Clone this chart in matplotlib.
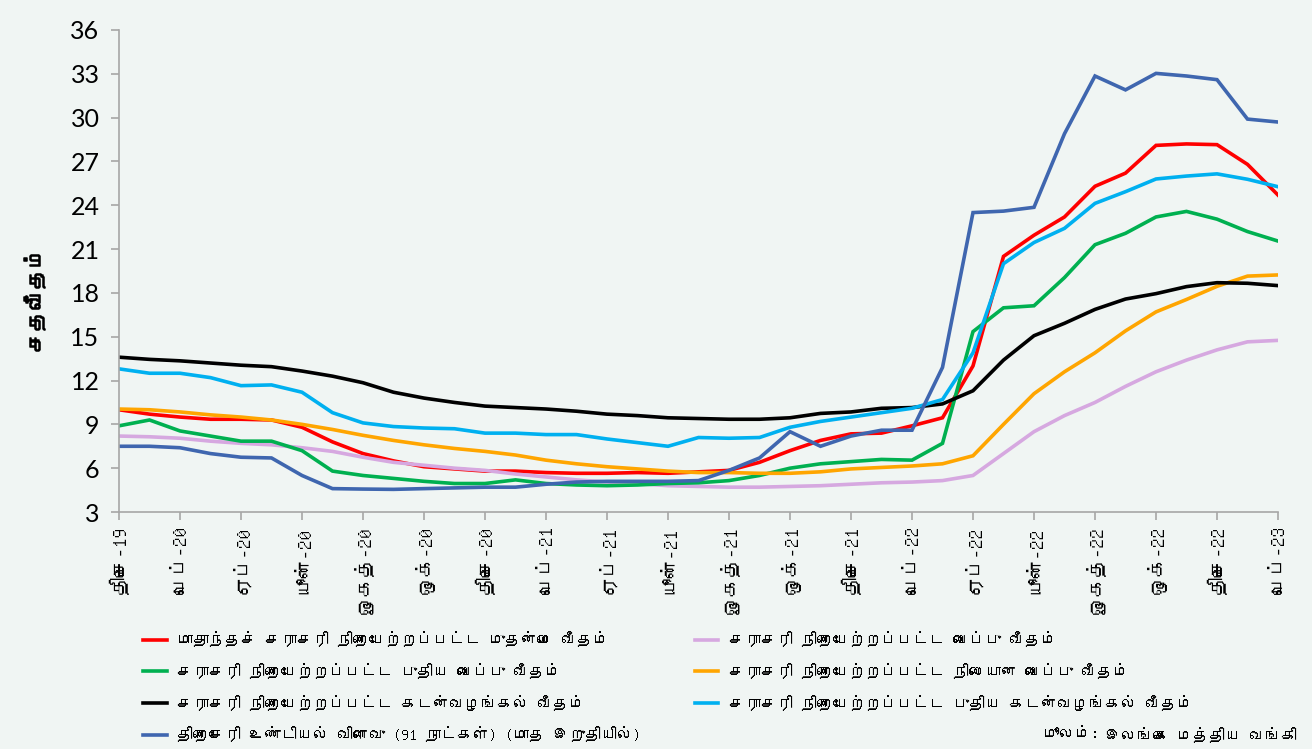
import matplotlib
matplotlib.use("Agg")
import matplotlib.pyplot as plt
import matplotlib.patheffects as pe
from matplotlib import font_manager
from matplotlib.ft2font import FT2Font

# ---------------- data ----------------
months = ["திசெ-19", "ஜன-20", "பெப்-20", "மார்-20", "ஏப்-20", "மே-20", "யூன்-20", "யூலை-20",
          "ஓகத்-20", "செப்-20", "ஒக்-20", "நவ-20", "திசெ-20", "ஜன-21", "பெப்-21", "மார்-21",
          "ஏப்-21", "மே-21", "யூன்-21", "யூலை-21", "ஓகத்-21", "செப்-21", "ஒக்-21", "நவ-21",
          "திசெ-21", "ஜன-22", "பெப்-22", "மார்-22", "ஏப்-22", "மே-22", "யூன்-22", "யூலை-22",
          "ஓகத்-22", "செப்-22", "ஒக்-22", "நவ-22", "திசெ-22", "ஜன-23", "பெப்-23"]

awpr = [10.0, 9.7, 9.5, 9.35, 9.35, 9.3, 8.8, 7.8, 7.0, 6.5, 6.1, 5.95, 5.8, 5.8, 5.7, 5.65,
        5.65, 5.7, 5.65, 5.75, 5.85, 6.4, 7.2, 7.9, 8.35, 8.4, 8.9, 9.45, 13.0, 20.5, 21.95,
        23.2, 25.3, 26.2, 28.1, 28.2, 28.15, 26.8, 24.7]
awdr = [8.2, 8.15, 8.05, 7.85, 7.7, 7.6, 7.4, 7.15, 6.75, 6.4, 6.2, 6.0, 5.85, 5.6, 5.4, 5.2,
        5.05, 4.95, 4.8, 4.75, 4.7, 4.7, 4.75, 4.8, 4.9, 5.0, 5.05, 5.15, 5.5, 7.0, 8.5, 9.6,
        10.5, 11.6, 12.6, 13.4, 14.1, 14.65, 14.75]
awndr = [8.9, 9.3, 8.55, 8.2, 7.85, 7.85, 7.2, 5.8, 5.5, 5.3, 5.1, 4.95, 4.95, 5.2, 4.95, 4.85,
         4.8, 4.85, 4.95, 5.0, 5.15, 5.5, 6.0, 6.3, 6.45, 6.6, 6.55, 7.7, 15.35, 16.98, 17.12,
         19.05, 21.3, 22.08, 23.2, 23.58, 23.05, 22.2, 21.55]
awfdr = [10.05, 10.0, 9.85, 9.65, 9.5, 9.3, 9.0, 8.65, 8.25, 7.9, 7.6, 7.35, 7.15, 6.9, 6.55,
         6.3, 6.1, 5.95, 5.8, 5.7, 5.7, 5.65, 5.65, 5.75, 5.95, 6.05, 6.15, 6.3, 6.85, 9.0, 11.1,
         12.6, 13.9, 15.4, 16.7, 17.55, 18.45, 19.15, 19.23]
awlr = [13.6, 13.45, 13.35, 13.2, 13.05, 12.95, 12.65, 12.3, 11.85, 11.2, 10.8, 10.5, 10.25,
        10.15, 10.05, 9.9, 9.7, 9.6, 9.45, 9.4, 9.35, 9.35, 9.45, 9.75, 9.85, 10.1, 10.15, 10.4,
        11.3, 13.4, 15.07, 15.92, 16.87, 17.58, 17.95, 18.43, 18.7, 18.66, 18.5]
awnlr = [12.8, 12.5, 12.5, 12.2, 11.65, 11.7, 11.2, 9.8, 9.1, 8.85, 8.75, 8.7, 8.4, 8.4, 8.3,
         8.3, 8.0, 7.75, 7.5, 8.1, 8.05, 8.1, 8.8, 9.2, 9.5, 9.8, 10.1, 10.7, 13.9, 20.0, 21.45,
         22.42, 24.13, 24.93, 25.8, 26.0, 26.15, 25.78, 25.27]
tbill = [7.5, 7.5, 7.4, 7.0, 6.75, 6.7, 5.5, 4.6, 4.57, 4.55, 4.6, 4.65, 4.7, 4.7, 4.9, 5.05,
         5.1, 5.1, 5.1, 5.15, 5.85, 6.7, 8.5, 7.5, 8.2, 8.6, 8.6, 12.9, 23.5, 23.6, 23.86, 28.9,
         32.85, 31.9, 33.03, 32.85, 32.6, 29.9, 29.7]

labels = {
    "awpr": "மாதாந்தச் சராசரி நிறையேற்றப்பட்ட முதன்மை வீதம்",
    "awdr": "சராசரி நிறையேற்றப்பட்ட வைப்பு வீதம்",
    "awndr": "சராசரி நிறையேற்றப்பட்ட புதிய வைப்பு வீதம்",
    "awfdr": "சராசரி நிறையேற்றப்பட்ட நிலையான வைப்பு வீதம்",
    "awlr": "சராசரி நிறையேற்றப்பட்ட கடன்வழங்கல் வீதம்",
    "awnlr": "சராசரி நிறையேற்றப்பட்ட புதிய கடன்வழங்கல் வீதம்",
    "tbill": "திறைசேரி உண்டியல் விளைவு (91 நாட்கள்) (மாத இறுதியில்)",
}
ylabel = "சதவீதம்"
source_italic = "மூலம்:"
source_text = "இலங்கை மத்திய வங்கி"
yticks = [3, 6, 9, 12, 15, 18, 21, 24, 27, 30, 33, 36]

# ---------------- fonts ----------------
tamil_fonts = []
for f in font_manager.fontManager.ttflist:
    try:
        if 0x0B95 in FT2Font(f.fname).get_charmap():
            if f.name not in tamil_fonts:
                tamil_fonts.append(f.name)
    except Exception:
        pass
family = tamil_fonts[:1] + ["DejaVu Sans"]
plt.rcParams["font.family"] = family

# ---------------- plot ----------------
bg = "#F0F5F3"
W, H = 1312, 749
fig = plt.figure(figsize=(W / 100, H / 100), dpi=100, facecolor=bg)
ax = fig.add_axes([119 / W, 1 - 512 / H, (1278 - 119) / W, (512 - 30) / H])
ax.set_facecolor(bg)

x = list(range(len(months)))
lw = 2.6
series = [
    ("awpr", awpr, "#FF0000"),
    ("awdr", awdr, "#D6A8E0"),
    ("awndr", awndr, "#00B050"),
    ("awfdr", awfdr, "#FFA500"),
    ("awlr", awlr, "#000000"),
    ("awnlr", awnlr, "#00B0F0"),
    ("tbill", tbill, "#3F66AF"),
]
handles = {}
for key, vals, col in series:
    (ln,) = ax.plot(x, vals, color=col, lw=lw, solid_joinstyle="miter", label=labels[key])
    handles[key] = ln

ax.set_xlim(0, len(months) - 1)
ax.set_ylim(3, 36)
ax.set_yticks(yticks)
ax.set_yticklabels([str(v) for v in yticks], fontsize=18, family=["Lato", "DejaVu Sans"])
ax.set_xticks(x[::2])
ax.set_xticklabels(months[::2], rotation=90, fontsize=14)

for s in ["top", "right"]:
    ax.spines[s].set_visible(False)
for s in ["left", "bottom"]:
    ax.spines[s].set_color("#A6A6A6")
    ax.spines[s].set_linewidth(1.2)
ax.tick_params(axis="both", color="#A6A6A6", width=1.2, length=6, direction="out")
ax.tick_params(axis="y", pad=8)
ax.tick_params(axis="x", pad=4)

fig.text(35 / W, 1 - 300 / H, ylabel, rotation=90, fontsize=15, fontweight="bold",
         ha="center", va="center",
         path_effects=[pe.withStroke(linewidth=1.1, foreground="black")])

order = ["awpr", "awndr", "awlr", "tbill", "awdr", "awfdr", "awnlr"]
leg = fig.legend([handles[k] for k in order], [labels[k] for k in order], ncol=2,
                 loc="upper left", bbox_to_anchor=(129 / W, 1 - 617 / H), frameon=False,
                 fontsize=11.5, handlelength=1.45, handletextpad=0.65, columnspacing=3.4,
                 labelspacing=0.98)

src = fig.text(1297 / W, 1 - 735 / H, source_text, fontsize=11.5, ha="right", va="center")
fig.canvas.draw()
bb = src.get_window_extent(renderer=fig.canvas.get_renderer())
fig.text((bb.x0 - 6) / W, 1 - 735 / H, source_italic, fontsize=11.5, ha="right",
         va="center", style="italic")

fig.savefig("out.png", dpi=100, facecolor=bg)
